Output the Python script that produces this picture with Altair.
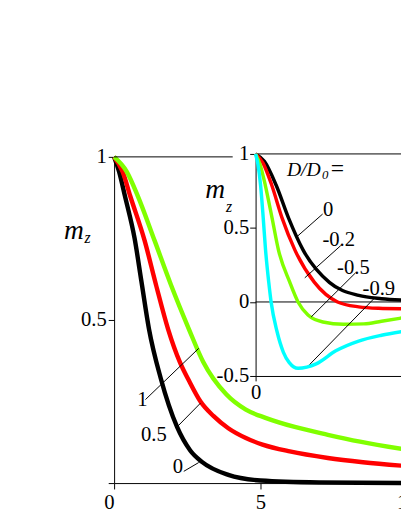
import altair as alt
import pandas as pd

# ---------------- main panel data (m_z vs x) ----------------
main_labels = ["0", "0.5", "1"]
main_colors = ["#000000", "#ff0000", "#80ff00"]
main_x_0 = [0, 0.17, 0.37, 0.70, 0.93, 1.19, 1.59, 2.15, 2.6, 3.0, 3.9, 5.0, 7.0, 10.0]
main_y_0 = [1, 0.955, 0.88, 0.75, 0.62, 0.473, 0.322, 0.172, 0.10, 0.065, 0.025, 0.008, 0.002, 0.0]
main_x_05 = [0, 0.29, 0.55, 1.04, 1.43, 1.84, 2.25, 2.55, 2.95, 3.4, 3.9, 4.5, 5.07, 6.0, 7.3, 8.5, 10.0]
main_y_05 = [1, 0.955, 0.88, 0.744, 0.608, 0.473, 0.37, 0.315, 0.25, 0.205, 0.168, 0.138, 0.118, 0.097, 0.077, 0.064, 0.052]
main_x_1 = [0, 0.43, 0.81, 1.38, 1.94, 2.55, 3.04, 3.83, 4.5, 5.17, 6.17, 7.3, 8.4, 10.0]
main_y_1 = [1, 0.955, 0.88, 0.744, 0.608, 0.473, 0.372, 0.272, 0.225, 0.20, 0.172, 0.148, 0.127, 0.102]

# leader lines and their labels (main panel)
main_lead_x1 = [2.38, 2.15, 1.07]
main_lead_y1 = [0.036, 0.172, 0.256]
main_lead_x2 = [2.89, 2.95, 2.89]
main_lead_y2 = [0.063, 0.245, 0.413]
main_text_x = [2.18, 1.36, 0.97]
main_text_y = [0.05, 0.146, 0.254]

main_x_ticks = [0, 5, 10]
main_y_ticks = [0, 0.5, 1]

# ---------------- inset data ----------------
inset_labels = ["0", "-0.2", "-0.5", "-0.9"]
inset_colors = ["#000000", "#ff0000", "#80ff00", "#00ffff"]
inset_x_0 = [0, 0.3, 0.70, 1.12, 1.62, 2.52, 3.52, 4.3, 5.0]
inset_y_0 = [1, 0.95, 0.79, 0.57, 0.352, 0.132, 0.044, 0.022, 0.013]
inset_x_02 = [0, 0.25, 0.55, 0.9, 1.34, 2.01, 2.8, 3.52, 4.2, 5.0]
inset_y_02 = [1, 0.94, 0.79, 0.57, 0.352, 0.132, 0.0, -0.033, -0.043, -0.046]
inset_x_05 = [0, 0.15, 0.33, 0.56, 0.78, 1.17, 1.45, 1.79, 2.3, 3.0, 3.7, 4.3, 5.0]
inset_y_05 = [1, 0.93, 0.79, 0.57, 0.352, 0.132, 0.0, -0.088, -0.135, -0.15, -0.148, -0.13, -0.108]
inset_x_09 = [0, 0.08, 0.17, 0.26, 0.34, 0.45, 0.53, 0.73, 0.95, 1.15, 1.45, 1.75, 2.07, 2.74, 3.52, 4.3, 5.0]
inset_y_09 = [1, 0.93, 0.79, 0.57, 0.352, 0.132, 0.0, -0.198, -0.34, -0.41, -0.448, -0.44, -0.418, -0.33, -0.264, -0.225, -0.2]

inset_lead_x1 = [1.40, 1.68, 1.90, 1.85]
inset_lead_y1 = [0.439, 0.163, -0.101, -0.422]
inset_lead_x2 = [2.29, 2.91, 3.41, 4.03]
inset_lead_y2 = [0.594, 0.381, 0.196, 0.020]
inset_text_x = [2.48, 2.84, 3.34, 4.21]
inset_text_y = [0.62, 0.417, 0.228, 0.089]

inset_y_ticks = [-0.5, 0, 0.5, 1]
inset_x_ticks = [0]

FONT = "Liberation Serif"

# ---------------- scales & axes ----------------
mx_scale = alt.Scale(domain=[0, 10], range=[0, 298], nice=False, zero=False)
my_scale = alt.Scale(domain=[0, 1], nice=False, zero=False)
ix_scale = alt.Scale(domain=[0, 5], range=[144, 293], nice=False, zero=False)
iy_scale = alt.Scale(domain=[-0.5, 1], range=[223, -3], nice=False, zero=False)

axis_common = dict(title=None, grid=False, domainColor="black", tickColor="black",
                   domainWidth=1, tickWidth=1, labelFont=FONT, labelFontSize=21,
                   labelColor="black", labelOverlap=False)

mx_axis = alt.Axis(values=main_x_ticks, tickSize=6, labelPadding=3, labelFlush=False,
                   labelAlign={"condition": {"test": "datum.value == 0", "value": "right"},
                               "value": "center"},
                   **axis_common)
my_axis = alt.Axis(values=main_y_ticks, tickSize=6, labelPadding=2,
                   labelExpr="datum.value == 0 ? '' : '' + datum.value",
                   labelBaseline="middle", **axis_common)
ix_axis = alt.Axis(values=inset_x_ticks, orient="bottom", offset=-109, tickSize=5,
                   labelPadding=1, labelFlush=False, **axis_common)
iy_axis = alt.Axis(values=inset_y_ticks, orient="left", offset=-144, tickSize=6,
                   labelPadding=1, labelExpr="'' + datum.value",
                   labelBaseline="middle", **axis_common)


def X(field, s, a):
    return alt.X(field, type="quantitative", scale=s, axis=a)


def Y(field, s, a):
    return alt.Y(field, type="quantitative", scale=s, axis=a)


# ---------------- main layers ----------------
main_layers = []
for xs, ys, col in zip([main_x_0, main_x_05, main_x_1],
                       [main_y_0, main_y_05, main_y_1], main_colors):
    df = pd.DataFrame({"x": xs, "y": ys})
    main_layers.append(
        alt.Chart(df).mark_line(color=col, strokeWidth=4.5, interpolate="monotone")
        .encode(x=X("x", mx_scale, mx_axis), y=Y("y", my_scale, my_axis))
    )

main_lead = pd.DataFrame({"x1": main_lead_x1, "y1": main_lead_y1,
                          "x2": main_lead_x2, "y2": main_lead_y2})
main_layers.append(
    alt.Chart(main_lead).mark_rule(color="black", strokeWidth=1)
    .encode(x=X("x1", mx_scale, mx_axis), y=Y("y1", my_scale, my_axis), x2="x2", y2="y2")
)
main_text = pd.DataFrame({"x": main_text_x, "y": main_text_y, "t": main_labels})
main_layers.append(
    alt.Chart(main_text).mark_text(font=FONT, fontSize=21, color="black", baseline="middle")
    .encode(x=X("x", mx_scale, mx_axis), y=Y("y", my_scale, my_axis), text="t")
)
main_top = pd.DataFrame({"x1": [0], "x2": [4.05], "y": [1]})
main_layers.append(
    alt.Chart(main_top).mark_rule(color="black", strokeWidth=1)
    .encode(x=X("x1", mx_scale, mx_axis), x2="x2", y=Y("y", my_scale, my_axis))
)
# axis title m_z
title_df = pd.DataFrame({"t": ["m"]})
sub_df = pd.DataFrame({"t": ["z"]})
main_layers.append(
    alt.Chart(title_df).mark_text(font=FONT, fontSize=28, fontStyle="italic", color="black",
                                  align="center", baseline="alphabetic")
    .encode(x=alt.value(-41), y=alt.value(84), text="t")
)
main_layers.append(
    alt.Chart(sub_df).mark_text(font=FONT, fontSize=16, fontStyle="italic",
                                color="black", align="center", baseline="alphabetic")
    .encode(x=alt.value(-27), y=alt.value(88), text="t")
)

# ---------------- inset layers ----------------
inset_layers = []
frame = pd.DataFrame({"x1": [0, 0], "x2": [5, 5], "y": [1, 0]})
inset_layers.append(
    alt.Chart(frame).mark_rule(color="black", strokeWidth=1)
    .encode(x=X("x1", ix_scale, ix_axis), x2="x2", y=Y("y", iy_scale, iy_axis))
)
for xs, ys, col in zip([inset_x_0, inset_x_02, inset_x_05, inset_x_09],
                       [inset_y_0, inset_y_02, inset_y_05, inset_y_09], inset_colors):
    df = pd.DataFrame({"x": xs, "y": ys})
    inset_layers.append(
        alt.Chart(df).mark_line(color=col, strokeWidth=3.5, interpolate="monotone")
        .encode(x=X("x", ix_scale, ix_axis), y=Y("y", iy_scale, iy_axis))
    )
inset_lead = pd.DataFrame({"x1": inset_lead_x1, "y1": inset_lead_y1,
                           "x2": inset_lead_x2, "y2": inset_lead_y2})
inset_layers.append(
    alt.Chart(inset_lead).mark_rule(color="black", strokeWidth=1)
    .encode(x=X("x1", ix_scale, ix_axis), y=Y("y1", iy_scale, iy_axis), x2="x2", y2="y2")
)
inset_text = pd.DataFrame({"x": inset_text_x, "y": inset_text_y, "t": inset_labels})
inset_layers.append(
    alt.Chart(inset_text).mark_text(font=FONT, fontSize=21, color="black", baseline="middle")
    .encode(x=X("x", ix_scale, ix_axis), y=Y("y", iy_scale, iy_axis), text="t")
)
dd_df = pd.DataFrame({"x": [1.07, 2.27, 2.52], "y": [0.848, 0.834, 0.848],
                      "t": ["D/D", "0", "="], "s": [20, 13, 24]})
inset_layers.append(
    alt.Chart(dd_df).mark_text(font=FONT, fontStyle="italic", color="black",
                               align="left", baseline="alphabetic")
    .encode(x=X("x", ix_scale, ix_axis), y=Y("y", iy_scale, iy_axis), text="t",
            size=alt.Size("s:Q", scale=None, legend=None))
)
inset_layers.append(
    alt.Chart(title_df).mark_text(font=FONT, fontSize=28, fontStyle="italic", color="black",
                                  align="center", baseline="alphabetic")
    .encode(x=alt.value(103), y=alt.value(42), text="t")
)
inset_layers.append(
    alt.Chart(sub_df).mark_text(font=FONT, fontSize=16, fontStyle="italic",
                                color="black", align="center", baseline="alphabetic")
    .encode(x=alt.value(117), y=alt.value(56), text="t")
)

main = alt.layer(*main_layers)
inset = alt.layer(*inset_layers)

chart = (
    alt.layer(main, inset)
    .resolve_scale(x="independent", y="independent")
    .properties(width=292, height=332,
                autosize=alt.AutoSizeParams(type="none"),
                padding={"left": 108, "top": 147, "right": 0, "bottom": 30},
                background="white")
    .configure_view(stroke=None)
)

chart.save("out.html", embed_options={"renderer": "svg", "actions": False})
